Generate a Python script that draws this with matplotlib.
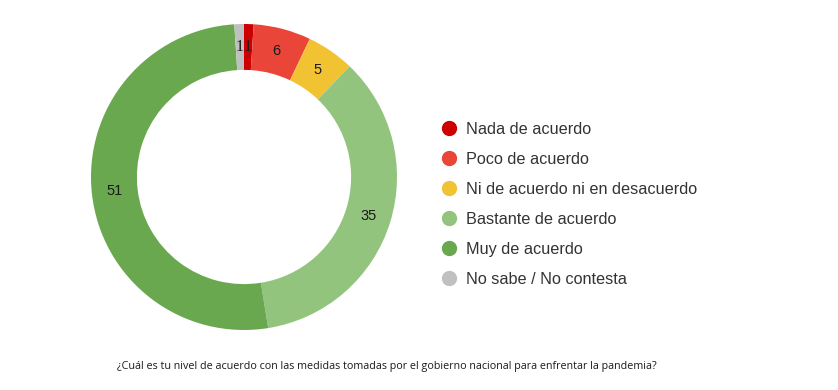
import matplotlib
matplotlib.use("Agg")
import matplotlib.pyplot as plt
from matplotlib.lines import Line2D

categories = ["Nada de acuerdo", "Poco de acuerdo", "Ni de acuerdo ni en desacuerdo",
              "Bastante de acuerdo", "Muy de acuerdo", "No sabe / No contesta"]
values = [1, 6, 5, 35, 51, 1]
colors = ["#cc0000", "#e94538", "#f1c232", "#93c47d", "#6aa84f", "#c0c0c0"]
caption = "¿Cuál es tu nivel de acuerdo con las medidas tomadas por el gobierno nacional para enfrentar la pandemia?"

W, H = 838, 390
fig = plt.figure(figsize=(W / 100, H / 100), dpi=100)
cx, cy, R = 244, 177, 153
ax = fig.add_axes([(cx - R) / W, (H - cy - R) / H, 2 * R / W, 2 * R / H])

total = sum(values)
wedges, texts, autotexts = ax.pie(
    values, colors=colors, startangle=90, counterclock=False,
    wedgeprops=dict(width=0.30, edgecolor="none"),
    autopct=lambda p: f"{round(p * total / 100):d}", pctdistance=0.85,
    textprops=dict(fontsize=10.5, color="#1a1a1a", family="Liberation Sans"))
for v, t in zip(values, autotexts):
    if v == 1:
        t.set_family("Liberation Serif")
        t.set_fontsize(11.5)
ax.set_xlim(-1, 1)
ax.set_ylim(-1, 1)
ax.set_aspect("equal")
ax.axis("off")

handles = [Line2D([], [], marker="o", linestyle="none", markersize=10,
                  markerfacecolor=c, markeredgecolor=c) for c in colors]
fig.legend(handles, categories, loc="upper left", bbox_to_anchor=(441 / W, 1 - 122 / H),
           frameon=False, labelspacing=0.92, handlelength=1.0,
           handletextpad=0.55, borderaxespad=0, borderpad=0,
           prop=dict(family="Liberation Sans", size=11.7), labelcolor="#333333")

fig.text(117 / W, 1 - 366 / H, caption, fontsize=7.72, family="Open Sans",
         color="#1a1a1a", va="center", ha="left")

fig.savefig("out.png", dpi=100, facecolor="white")
